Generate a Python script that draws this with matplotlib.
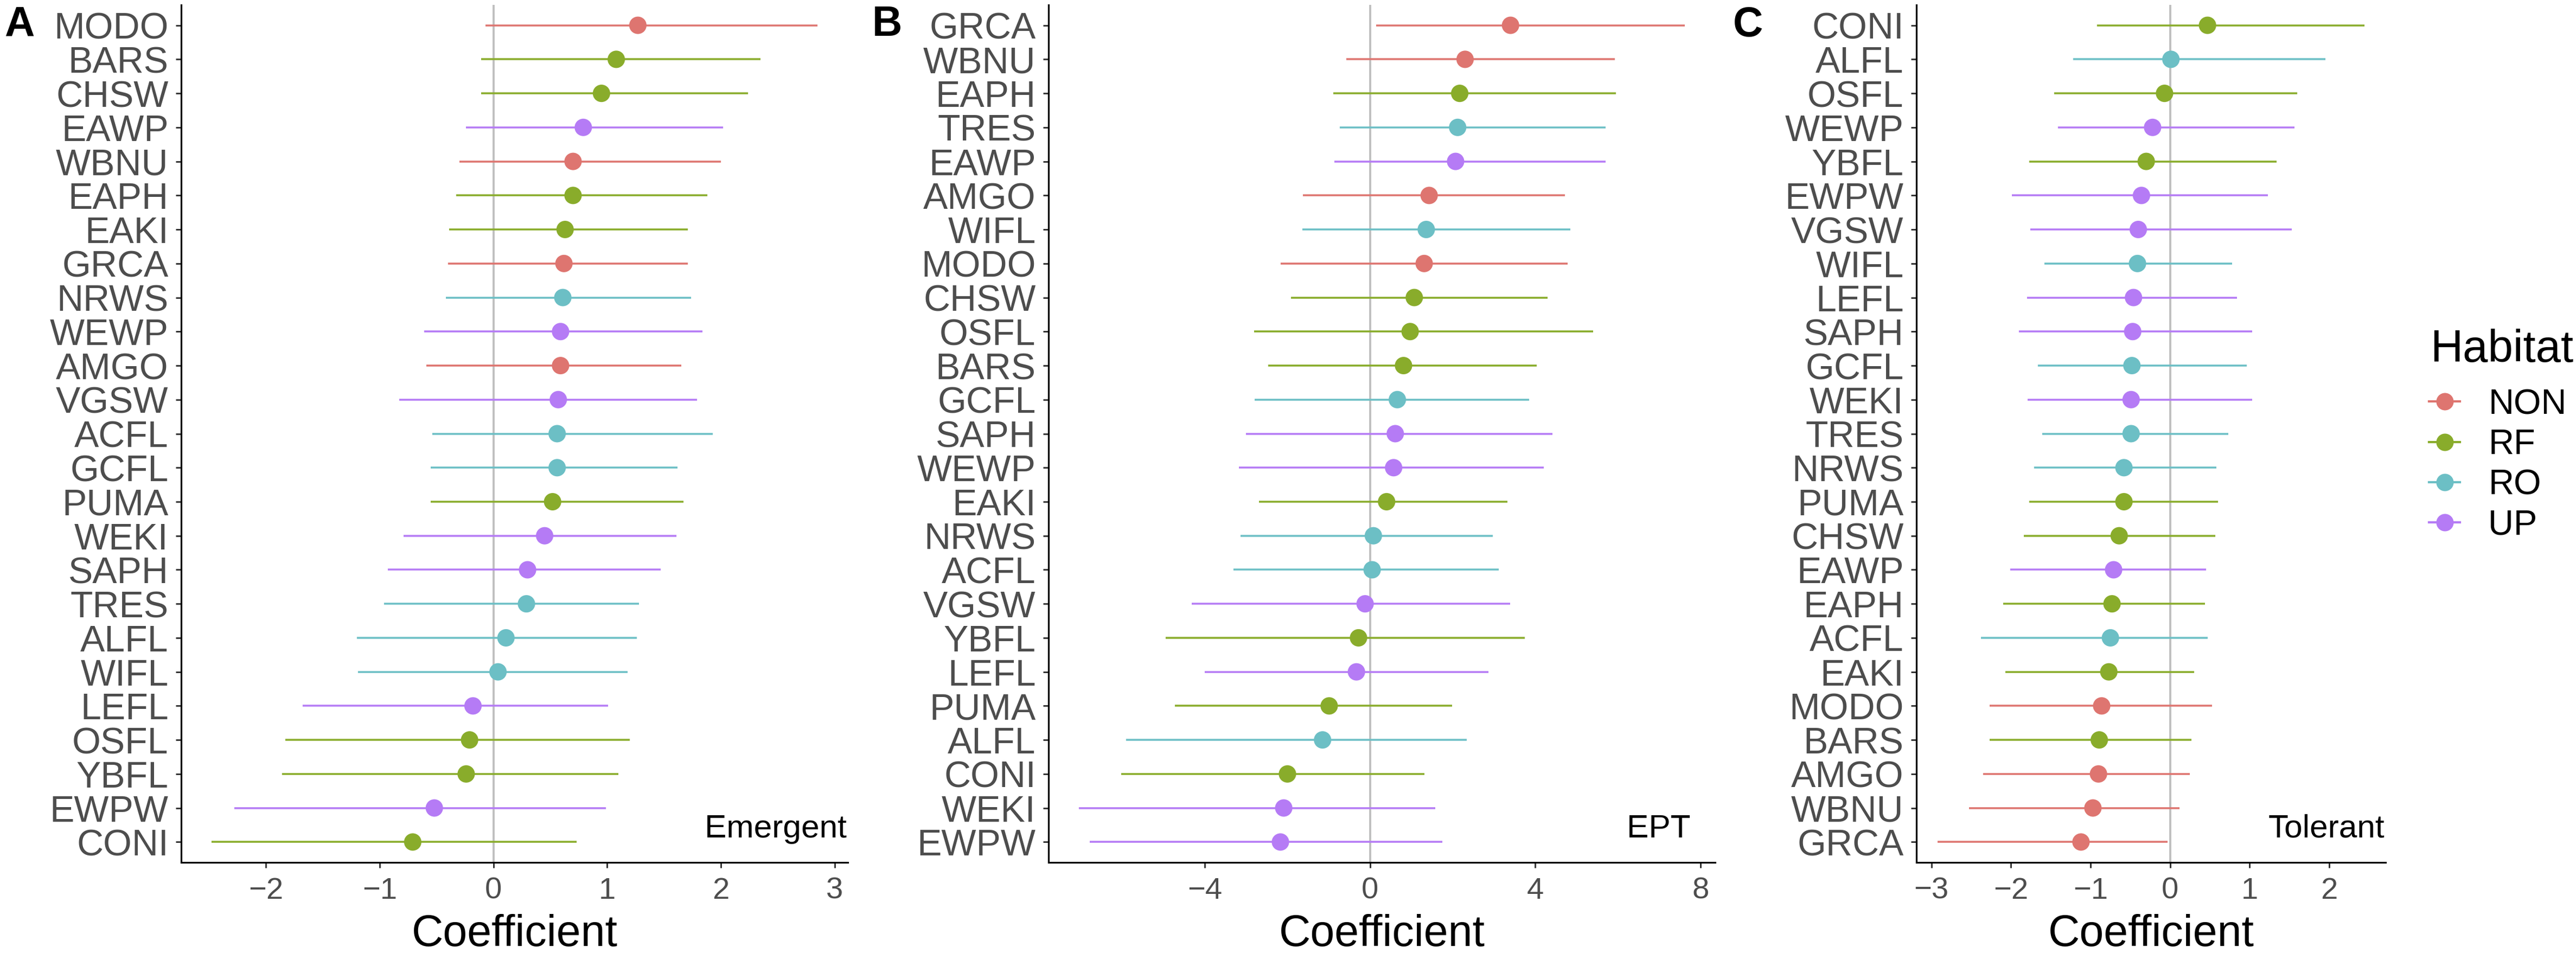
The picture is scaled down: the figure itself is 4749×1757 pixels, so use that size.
import matplotlib
matplotlib.use("Agg")
import matplotlib.pyplot as plt
from matplotlib.lines import Line2D

plt.rcParams['font.family'] = ['Liberation Sans', 'DejaVu Sans']

# ---------------- data ----------------
habitat_of = {
    'MODO': 'NON', 'WBNU': 'NON', 'GRCA': 'NON', 'AMGO': 'NON',
    'BARS': 'RF', 'CHSW': 'RF', 'EAPH': 'RF', 'EAKI': 'RF',
    'PUMA': 'RF', 'OSFL': 'RF', 'YBFL': 'RF', 'CONI': 'RF',
    'NRWS': 'RO', 'ACFL': 'RO', 'GCFL': 'RO', 'TRES': 'RO', 'ALFL': 'RO', 'WIFL': 'RO',
    'EAWP': 'UP', 'WEWP': 'UP', 'VGSW': 'UP', 'WEKI': 'UP', 'SAPH': 'UP', 'LEFL': 'UP', 'EWPW': 'UP',
}
habitats = ['NON', 'RF', 'RO', 'UP']
habitat_colors = ['#DE7570', '#89AC2B', '#6CBFC5', '#B57BF5']
legend_title = 'Habitat'

# Panel A: Emergent (top to bottom)
emergent_species = ['MODO', 'BARS', 'CHSW', 'EAWP', 'WBNU', 'EAPH', 'EAKI', 'GRCA', 'NRWS',
                    'WEWP', 'AMGO', 'VGSW', 'ACFL', 'GCFL', 'PUMA', 'WEKI', 'SAPH', 'TRES',
                    'ALFL', 'WIFL', 'LEFL', 'OSFL', 'YBFL', 'EWPW', 'CONI']
emergent_coef = [1.27, 1.08, 0.95, 0.79, 0.70, 0.70, 0.63, 0.62, 0.61, 0.59, 0.59, 0.57, 0.56,
                 0.56, 0.52, 0.45, 0.30, 0.29, 0.11, 0.04, -0.18, -0.21, -0.24, -0.52, -0.71]
emergent_lo = [-0.07, -0.11, -0.11, -0.24, -0.30, -0.33, -0.39, -0.40, -0.42, -0.61, -0.59, -0.83,
               -0.54, -0.55, -0.55, -0.79, -0.93, -0.96, -1.20, -1.19, -1.68, -1.83, -1.86, -2.28, -2.48]
emergent_hi = [2.85, 2.35, 2.24, 2.02, 2.00, 1.88, 1.71, 1.71, 1.74, 1.84, 1.65, 1.79, 1.93,
               1.62, 1.67, 1.61, 1.47, 1.28, 1.26, 1.18, 1.01, 1.20, 1.10, 0.99, 0.73]

# Panel B: EPT
ept_species = ['GRCA', 'WBNU', 'EAPH', 'TRES', 'EAWP', 'AMGO', 'WIFL', 'MODO', 'CHSW', 'OSFL',
               'BARS', 'GCFL', 'SAPH', 'WEWP', 'EAKI', 'NRWS', 'ACFL', 'VGSW', 'YBFL', 'LEFL',
               'PUMA', 'ALFL', 'CONI', 'WEKI', 'EWPW']
ept_coef = [3.40, 2.30, 2.17, 2.12, 2.07, 1.43, 1.36, 1.31, 1.07, 0.97, 0.81, 0.66, 0.61, 0.57,
            0.40, 0.08, 0.05, -0.12, -0.28, -0.33, -0.99, -1.15, -2.00, -2.09, -2.17]
ept_lo = [0.15, -0.58, -0.89, -0.73, -0.86, -1.63, -1.64, -2.16, -1.92, -2.81, -2.46, -2.79, -3.01,
          -3.17, -2.69, -3.13, -3.30, -4.32, -4.95, -4.00, -4.73, -5.91, -6.03, -7.05, -6.78]
ept_hi = [7.62, 5.93, 5.95, 5.70, 5.70, 4.72, 4.85, 4.78, 4.29, 5.40, 4.04, 3.85, 4.41, 4.20,
          3.32, 2.97, 3.11, 3.39, 3.74, 2.87, 1.99, 2.34, 1.32, 1.58, 1.75]

# Panel C: Tolerant
tolerant_species = ['CONI', 'ALFL', 'OSFL', 'WEWP', 'YBFL', 'EWPW', 'VGSW', 'WIFL', 'LEFL', 'SAPH',
                    'GCFL', 'WEKI', 'TRES', 'NRWS', 'PUMA', 'CHSW', 'EAWP', 'EAPH', 'ACFL', 'EAKI',
                    'MODO', 'BARS', 'AMGO', 'WBNU', 'GRCA']
tolerant_coef = [0.47, 0.01, -0.07, -0.22, -0.30, -0.36, -0.40, -0.41, -0.46, -0.47, -0.48, -0.49,
                 -0.49, -0.58, -0.58, -0.64, -0.71, -0.73, -0.75, -0.77, -0.86, -0.89, -0.90, -0.97, -1.12]
tolerant_lo = [-0.92, -1.22, -1.46, -1.41, -1.77, -1.99, -1.76, -1.58, -1.80, -1.90, -1.66, -1.79,
               -1.61, -1.71, -1.77, -1.84, -2.01, -2.10, -2.38, -2.07, -2.27, -2.27, -2.35, -2.53, -2.92]
tolerant_hi = [2.44, 1.95, 1.60, 1.56, 1.34, 1.23, 1.53, 0.78, 0.84, 1.03, 0.96, 1.03, 0.73, 0.58,
               0.60, 0.57, 0.45, 0.44, 0.47, 0.30, 0.53, 0.27, 0.25, 0.12, -0.03]

panel_letters = ['A', 'B', 'C']
panel_titles = ['Emergent', 'EPT', 'Tolerant']
x_ticks = [[-2, -1, 0, 1, 2, 3], [-4, 0, 4, 8], [-3, -2, -1, 0, 1, 2]]
x_label = 'Coefficient'

# ---------------- layout ----------------
W, H = 4749, 1757
DPI = 300
fig = plt.figure(figsize=(W / DPI, H / DPI), dpi=DPI)
fig.patch.set_facecolor('white')

ax_px = [(334, 1563), (1933, 3162), (3533, 4398)]
top_px, bot_px = 9, 1590
letter_x_px = [8, 1608, 3195]
title_xfrac = [0.998, 0.963, 0.998]

panels = [
    (emergent_species, emergent_coef, emergent_lo, emergent_hi),
    (ept_species, ept_coef, ept_lo, ept_hi),
    (tolerant_species, tolerant_coef, tolerant_lo, tolerant_hi),
]

color_of = dict(zip(habitats, habitat_colors))

for k, (species, coef, lo, hi) in enumerate(panels):
    l, r = ax_px[k]
    ax = fig.add_axes([l / W, 1 - bot_px / H, (r - l) / W, (bot_px - top_px) / H])
    n = len(species)
    ys = [n - i for i in range(n)]
    cols = [color_of[habitat_of[s]] for s in species]
    ax.axvline(0, color='#BEBEBE', lw=0.9, zorder=1)
    ax.hlines(ys, lo, hi, colors=cols, lw=0.85, zorder=2)
    ax.scatter(coef, ys, s=7.7 ** 2, c=cols, edgecolors='none', zorder=3)
    ax.margins(x=0.05)
    ax.set_ylim(0.4, n + 0.6)
    ax.set_yticks(ys)
    ax.set_yticklabels(species)
    ax.set_xticks(x_ticks[k])
    ax.set_xticklabels([str(t).replace('-', '\u2212') for t in x_ticks[k]])
    for side in ['top', 'right']:
        ax.spines[side].set_visible(False)
    for side in ['left', 'bottom']:
        ax.spines[side].set_linewidth(0.75)
        ax.spines[side].set_color('black')
    ax.tick_params(axis='y', labelsize=16.3, labelcolor='#4D4D4D', color='#333333',
                   length=2.4, width=0.7, pad=3.2)
    ax.tick_params(axis='x', labelsize=13.5, labelcolor='#4D4D4D', color='#333333',
                   length=2.4, width=0.7, pad=4.0)
    ax.set_xlabel(x_label, fontsize=19.4, color='black', labelpad=4)
    ax.text(title_xfrac[k], 1.14, panel_titles[k], transform=ax.get_yaxis_transform(),
            ha='right', va='baseline', fontsize=14.5, color='black')
    fig.text(letter_x_px[k] / W, 1 - 46 / H, panel_letters[k], ha='left', va='center',
             fontsize=18.4, fontweight='bold', color='black')

# legend title and entries
fig.text(4480 / W, 1 - 667 / H, legend_title, ha='left', va='baseline',
         fontsize=20, color='black')
handles = [Line2D([], [], color=c, lw=1.0, marker='o', markersize=7.7, markeredgewidth=0)
           for c in habitat_colors]
fig.legend(handles, habitats, loc='upper left',
           bbox_to_anchor=(4478 / W, 1 - 716 / H), frameon=False, borderpad=0,
           fontsize=15.6, handlelength=0.88, handletextpad=0.8,
           labelspacing=0.22, borderaxespad=0)

fig.savefig('out.png', dpi=DPI, facecolor='white')
